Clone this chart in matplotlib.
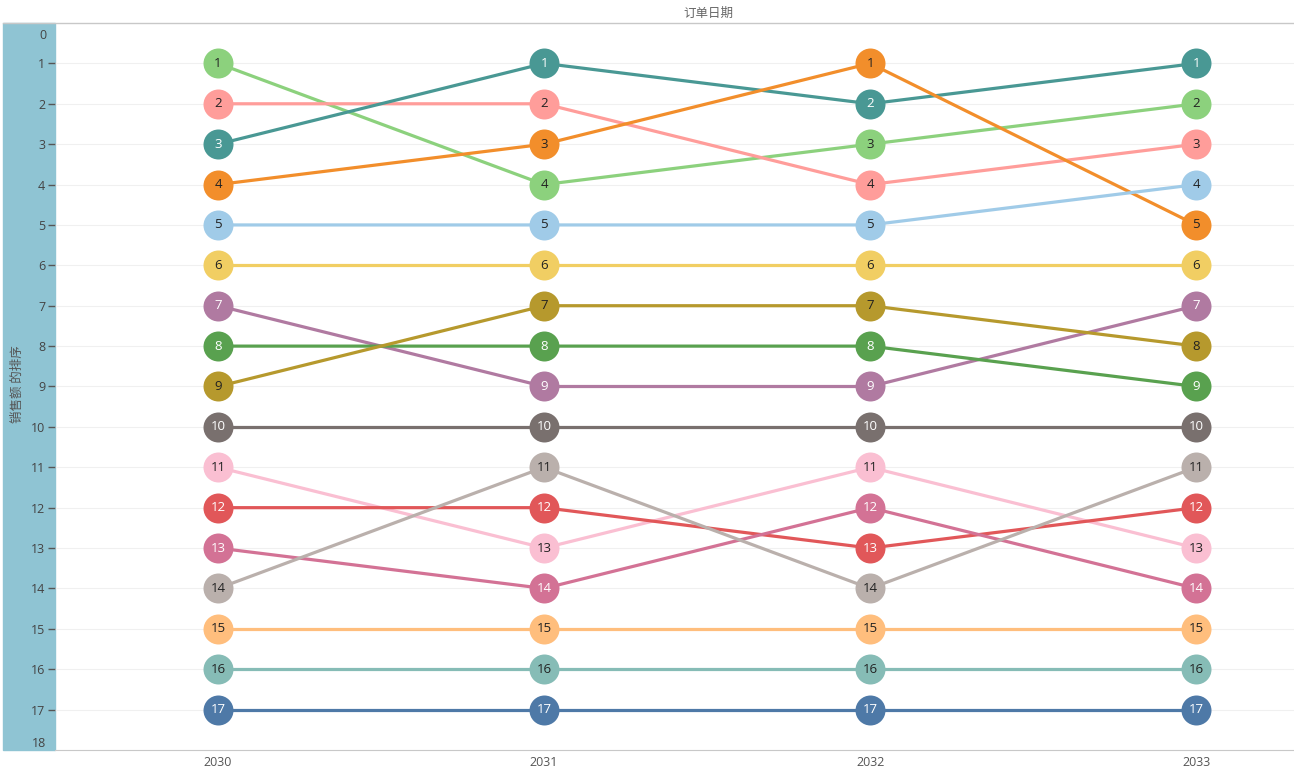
import matplotlib.pyplot as plt
import matplotlib.patches as patches

plt.rcParams['font.family'] = ['Noto Sans CJK SC', 'DejaVu Sans']
NUM_FONT = ['Open Sans', 'DejaVu Sans']

years = [2030, 2031, 2032, 2033]

# 每条线在各年的排名
ranks_a = [1, 4, 3, 2]
ranks_b = [2, 2, 4, 3]
ranks_c = [3, 1, 2, 1]
ranks_d = [4, 3, 1, 5]
ranks_e = [5, 5, 5, 4]
ranks_f = [6, 6, 6, 6]
ranks_g = [7, 9, 9, 7]
ranks_h = [8, 8, 8, 9]
ranks_i = [9, 7, 7, 8]
ranks_j = [10, 10, 10, 10]
ranks_k = [11, 13, 11, 13]
ranks_l = [12, 12, 13, 12]
ranks_m = [13, 14, 12, 14]
ranks_n = [14, 11, 14, 11]
ranks_o = [15, 15, 15, 15]
ranks_p = [16, 16, 16, 16]
ranks_q = [17, 17, 17, 17]

series = [ranks_a, ranks_b, ranks_c, ranks_d, ranks_e, ranks_f, ranks_g, ranks_h,
          ranks_i, ranks_j, ranks_k, ranks_l, ranks_m, ranks_n, ranks_o, ranks_p, ranks_q]
colors = ['#8CD17D', '#FF9D9A', '#499894', '#F28E2B', '#A0CBE8', '#F1CE63', '#B07AA1',
          '#59A14F', '#B6992D', '#79706E', '#FABFD2', '#E15759', '#D37295', '#BAB0AC',
          '#FFBE7D', '#86BCB6', '#4E79A7']
white_text = ['#499894', '#B07AA1', '#59A14F', '#79706E', '#E15759', '#D37295', '#4E79A7']

fig = plt.figure(figsize=(12.94, 7.77), dpi=100)
ax = fig.add_axes([55/1294, 27/777, 1239/1294, 727/777], zorder=1)
ax.set_facecolor('none')

# 左侧蓝色条
fig.patches.append(patches.Rectangle((3/1294, 27/777), 52/1294, 727/777,
                                     transform=fig.transFigure, color='#8FC4D3', zorder=-1))
fig.add_artist(plt.Line2D([3/1294, 1], [754/777, 754/777], color='#c8c8c8', lw=1))

for r in range(1, 18):
    ax.axhline(r, color='#f0f0f0', lw=0.8, zorder=0)

for ranks, c in zip(series, colors):
    ax.plot(years, ranks, color=c, lw=2.3, zorder=2)
    ax.scatter(years, ranks, s=21.6**2, color=c, zorder=3, linewidths=0)
    tc = 'white' if c in white_text else '#222222'
    for x, y in zip(years, ranks):
        ax.text(x, y, str(y), ha='center', va='center', fontsize=9.5, color=tc, zorder=4,
                family=NUM_FONT)

ax.set_xlim(2029.5, 2033.3)
ax.set_ylim(18, 0)
ax.set_xticks(years)
ax.set_xticklabels([str(y) for y in years], color='#555555', fontsize=9, family=NUM_FONT)
ax.set_yticks(range(1, 18))
ax.set_yticklabels([str(r) for r in range(1, 18)], color='#444444', fontsize=9, family=NUM_FONT)
ax.tick_params(axis='x', length=0, pad=4)
ax.tick_params(axis='y', length=5, width=1, color='#555555', pad=2)
for s in ['top', 'right', 'left']:
    ax.spines[s].set_visible(False)
ax.spines['bottom'].set_color('#c8c8c8')

# 端点刻度标签向内偏移
ax.text(-9/1239, 0.15, '0', transform=ax.get_yaxis_transform(), ha='right', va='top',
        fontsize=9, color='#444444', family=NUM_FONT)
ax.text(-9/1239, 18, '18', transform=ax.get_yaxis_transform(), ha='right', va='bottom',
        fontsize=9, color='#444444', family=NUM_FONT)

fig.text(708/1294, 1 - 13/777, '订单日期', ha='center', va='center', fontsize=9, color='#666666')
fig.text(17/1294, 1 - 384/777, '销售额 的排序', ha='center', va='center', rotation=90,
         fontsize=9, color='#555555')

fig.savefig('out.png', dpi=100)
